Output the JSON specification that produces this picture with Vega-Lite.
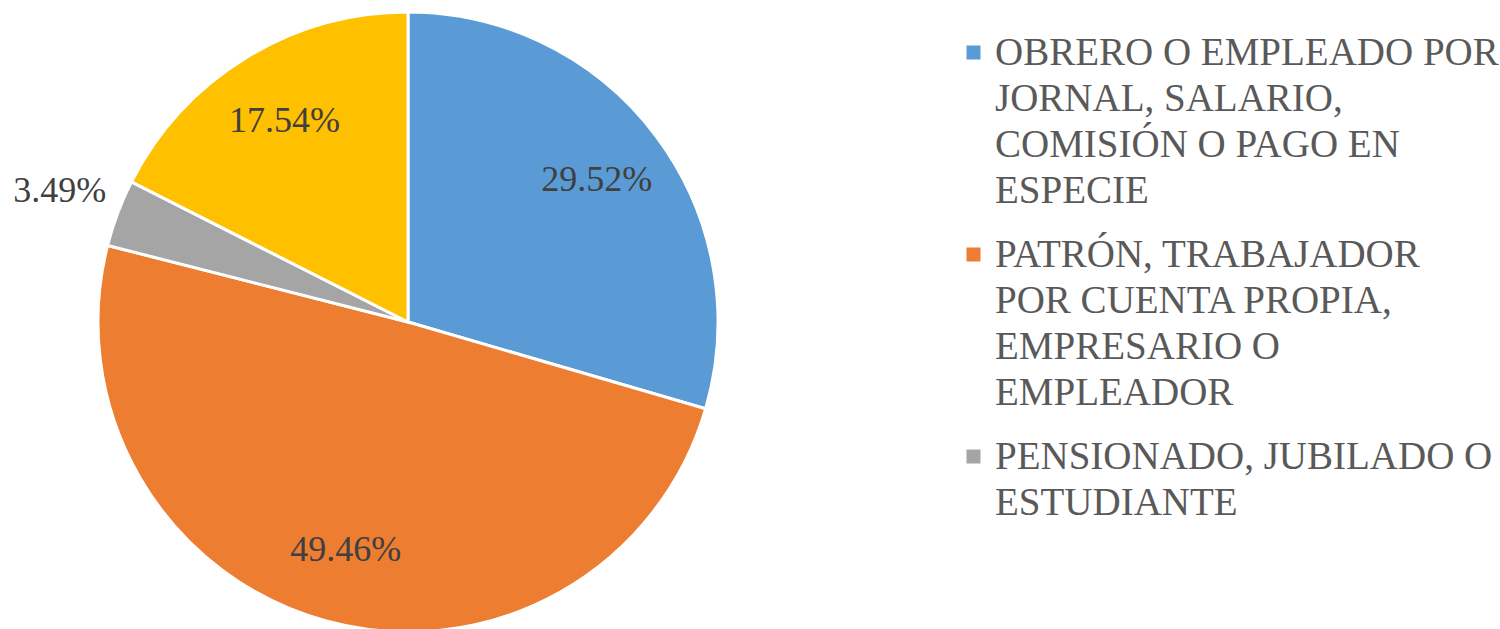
{
  "$schema": "https://vega.github.io/schema/vega-lite/v6.json",
  "width": 816,
  "height": 644,
  "autosize": {"type": "pad"},
  "padding": 0,
  "background": "white",
  "view": {"stroke": null},
  "config": {"style": {"guide-label": {"lineHeight": 46}}},
  "data": {"values": [
    {"categoria": "OBRERO O EMPLEADO POR JORNAL, SALARIO, COMISIÓN O PAGO EN ESPECIE", "proporcion": 0.2952, "orden": 1},
    {"categoria": "PATRÓN, TRABAJADOR POR CUENTA PROPIA, EMPRESARIO O EMPLEADOR", "proporcion": 0.4946, "orden": 2},
    {"categoria": "PENSIONADO, JUBILADO O ESTUDIANTE", "proporcion": 0.0349, "orden": 3},
    {"categoria": "OTRO", "proporcion": 0.1754, "orden": 4}
  ]},
  "encoding": {
    "theta": {"field": "proporcion", "type": "quantitative", "stack": true},
    "order": {"field": "orden", "type": "quantitative"}
  },
  "layer": [
    {
      "mark": {"type": "arc", "radius": 310, "stroke": "white", "strokeWidth": 3},
      "encoding": {
        "color": {
          "field": "categoria",
          "type": "nominal",
          "scale": {
            "domain": [
              "OBRERO O EMPLEADO POR JORNAL, SALARIO, COMISIÓN O PAGO EN ESPECIE",
              "PATRÓN, TRABAJADOR POR CUENTA PROPIA, EMPRESARIO O EMPLEADOR",
              "PENSIONADO, JUBILADO O ESTUDIANTE",
              "OTRO"
            ],
            "range": ["#5B9BD5", "#ED7D31", "#A5A5A5", "#FFC000"]
          },
          "legend": {
            "orient": "none",
            "legendX": 954,
            "legendY": 33,
            "title": null,
            "values": [
              "OBRERO O EMPLEADO POR JORNAL, SALARIO, COMISIÓN O PAGO EN ESPECIE",
              "PATRÓN, TRABAJADOR POR CUENTA PROPIA, EMPRESARIO O EMPLEADOR",
              "PENSIONADO, JUBILADO O ESTUDIANTE"
            ],
            "symbolType": "square",
            "symbolSize": 196,
            "symbolStrokeWidth": 0,
            "labelFont": "Liberation Serif",
            "labelFontSize": 39,
            "labelColor": "#595959",
            "labelLimit": 0,
            "labelOffset": 2,
            "rowPadding": 24,
            "labelExpr": "indexof(datum.label, 'OBRERO') == 0 ? ['OBRERO O EMPLEADO POR', 'JORNAL, SALARIO,', 'COMISIÓN O PAGO EN', 'ESPECIE'] : indexof(datum.label, 'PATR') == 0 ? ['PATRÓN, TRABAJADOR', 'POR CUENTA PROPIA,', 'EMPRESARIO O', 'EMPLEADOR'] : ['PENSIONADO, JUBILADO O', 'ESTUDIANTE']",
            "encode": {"labels": {"enter": {"lineHeight": {"value": 46}}, "update": {"lineHeight": {"value": 46}}}}
          }
        }
      }
    },
    {
      "mark": {"type": "text", "radius": 236, "font": "Liberation Serif", "color": "#404040", "align": "center", "baseline": "middle"},
      "encoding": {
        "detail": {"field": "categoria", "type": "nominal"},
        "size": {"condition": {"test": "datum.proporcion >= 0.05", "value": 36}, "value": 0},
        "text": {"condition": {"test": "datum.proporcion >= 0.05", "field": "proporcion", "type": "quantitative", "format": ".2%"}, "value": ""}
      }
    },
    {
      "mark": {"type": "text", "radius": 372, "font": "Liberation Serif", "color": "#404040", "align": "center", "baseline": "middle"},
      "encoding": {
        "detail": {"field": "categoria", "type": "nominal"},
        "size": {"condition": {"test": "datum.proporcion < 0.05", "value": 36}, "value": 0},
        "text": {"condition": {"test": "datum.proporcion < 0.05", "field": "proporcion", "type": "quantitative", "format": ".2%"}, "value": ""}
      }
    }
  ]
}
